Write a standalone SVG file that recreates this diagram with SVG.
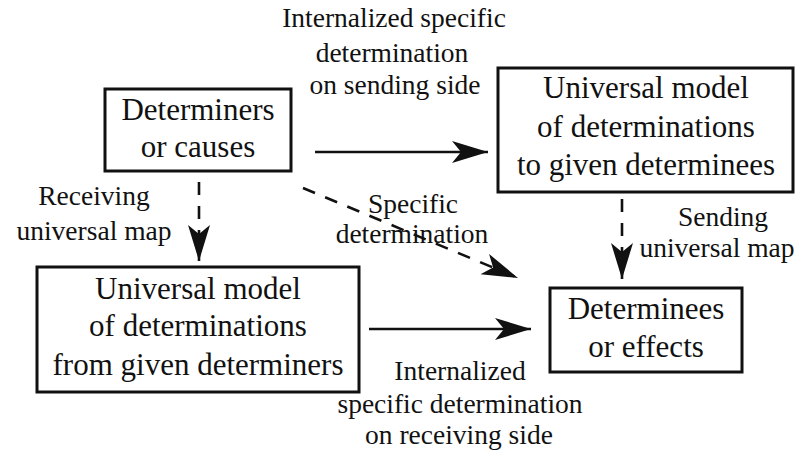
<svg xmlns="http://www.w3.org/2000/svg" width="796" height="456" viewBox="0 0 796 456">
<style>
.box{fill:#fff;stroke:#111;stroke-width:3}
.ln{stroke:#111;stroke-width:2.6;fill:none}
.ds{stroke-dasharray:13 11}
</style>
<defs>
<marker id="ah" markerUnits="userSpaceOnUse" markerWidth="40" markerHeight="30" viewBox="-38 -12 40 24" refX="0" refY="0" orient="auto">
<path d="M0,0 L-36,-11 L-27,0 L-36,11 Z" fill="#111"/>
</marker>
</defs>
<rect width="796" height="456" fill="#fff"/>
<g id="connectors">
<line class="ln" x1="315" y1="152" x2="488" y2="152" marker-end="url(#ah)"/>
<line class="ln ds" x1="199" y1="182" x2="199" y2="261" marker-end="url(#ah)"/>
<line class="ln ds" x1="303" y1="188" x2="518" y2="278" marker-end="url(#ah)"/>
<line class="ln ds" x1="622" y1="199" x2="622" y2="279" marker-end="url(#ah)"/>
<line class="ln" x1="369" y1="329" x2="531" y2="329" marker-end="url(#ah)"/>
</g>
<g id="labels">
<text font-family="Times New Roman" font-size="27.5" fill="#111" text-anchor="middle" x="394" y="27">Internalized specific</text>
<text font-family="Times New Roman" font-size="27.5" fill="#111" text-anchor="middle" x="392" y="62">determination</text>
<text font-family="Times New Roman" font-size="27.5" fill="#111" text-anchor="middle" x="395" y="94">on sending side</text>
<text font-family="Times New Roman" font-size="27.5" fill="#111" text-anchor="middle" x="94" y="205">Receiving</text>
<text font-family="Times New Roman" font-size="27.5" fill="#111" text-anchor="middle" x="94" y="240">universal map</text>
<text font-family="Times New Roman" font-size="27.5" fill="#111" text-anchor="middle" x="413" y="213">Specific</text>
<text font-family="Times New Roman" font-size="27.5" fill="#111" text-anchor="middle" x="412" y="243">determination</text>
<text font-family="Times New Roman" font-size="27.5" fill="#111" text-anchor="middle" x="723" y="226">Sending</text>
<text font-family="Times New Roman" font-size="27.5" fill="#111" text-anchor="middle" x="717" y="257">universal map</text>
<text font-family="Times New Roman" font-size="27.5" fill="#111" text-anchor="middle" x="460" y="380">Internalized</text>
<text font-family="Times New Roman" font-size="27.5" fill="#111" text-anchor="middle" x="460" y="413">specific determination</text>
<text font-family="Times New Roman" font-size="27.5" fill="#111" text-anchor="middle" x="459" y="444">on  receiving side</text>
</g>
<g id="determiners">
<rect class="box" x="105" y="89" width="186" height="82"/>
<text font-family="Times New Roman" font-size="31" fill="#111" text-anchor="middle" x="198" y="120">Determiners</text>
<text font-family="Times New Roman" font-size="31" fill="#111" text-anchor="middle" x="198" y="157">or causes</text>
</g>
<g id="model-to">
<rect class="box" x="498" y="68" width="295" height="124"/>
<text font-family="Times New Roman" font-size="31" fill="#111" text-anchor="middle" x="646" y="98">Universal model</text>
<text font-family="Times New Roman" font-size="31" fill="#111" text-anchor="middle" x="646" y="137">of determinations</text>
<text font-family="Times New Roman" font-size="31" fill="#111" text-anchor="middle" x="646" y="175">to given determinees</text>
</g>
<g id="model-from">
<rect class="box" x="37" y="267" width="322" height="125"/>
<text font-family="Times New Roman" font-size="31" fill="#111" text-anchor="middle" x="198" y="299">Universal model</text>
<text font-family="Times New Roman" font-size="31" fill="#111" text-anchor="middle" x="198" y="336">of determinations</text>
<text font-family="Times New Roman" font-size="31" fill="#111" text-anchor="middle" x="198" y="375">from given determiners</text>
</g>
<g id="determinees">
<rect class="box" x="550" y="288" width="192" height="84"/>
<text font-family="Times New Roman" font-size="31" fill="#111" text-anchor="middle" x="646" y="319">Determinees</text>
<text font-family="Times New Roman" font-size="31" fill="#111" text-anchor="middle" x="646" y="357">or effects</text>
</g>
</svg>
